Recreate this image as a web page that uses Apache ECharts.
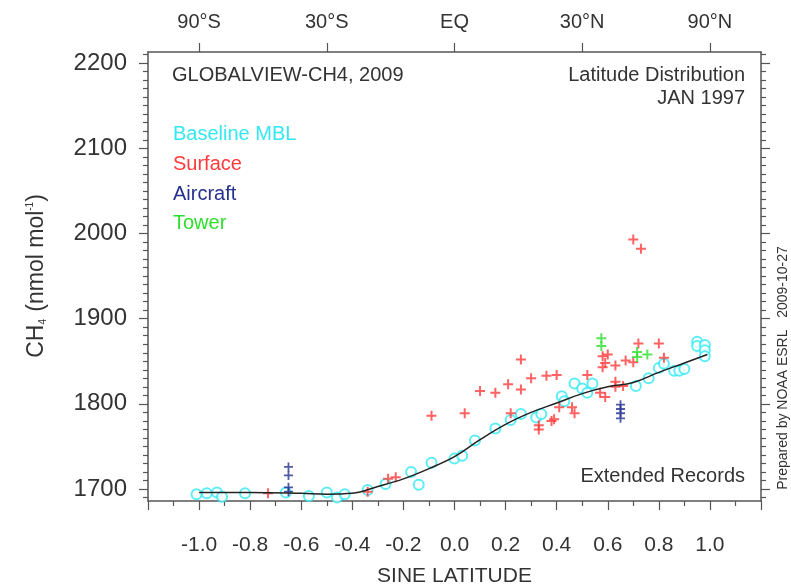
<!DOCTYPE html>
<html>
<head>
<meta charset="utf-8">
<script src="https://cdn.jsdelivr.net/npm/echarts@6/dist/echarts.min.js"></script>
<style>
  html, body { margin: 0; padding: 0; background: #fff; }
  #chart { width: 791px; height: 584px; }
</style>
</head>
<body>
<div id="chart"></div>
<script>
// tick labels
const yLabels = [1700, 1800, 1900, 2000, 2100, 2200]
const topLabels = [[-1, '90°S'], [-0.5, '30°S'], [0, 'EQ'], [0.5, '30°N'], [1, '90°N']]

// [sine latitude, CH4]
const baselineMBL = [
  [-1.01, 1694], [-0.97, 1695], [-0.93, 1696], [-0.91, 1691], [-0.82, 1695],
  [-0.66, 1696], [-0.57, 1692], [-0.50, 1696], [-0.46, 1690], [-0.43, 1694],
  [-0.34, 1699], [-0.27, 1706], [-0.17, 1720], [-0.14, 1705], [-0.09, 1731],
  [0.00, 1736], [0.03, 1739], [0.08, 1757], [0.16, 1771], [0.22, 1781],
  [0.26, 1788], [0.32, 1784], [0.34, 1788], [0.42, 1809], [0.43, 1803],
  [0.47, 1824], [0.50, 1818], [0.52, 1813], [0.54, 1824], [0.71, 1821],
  [0.76, 1830], [0.80, 1842], [0.82, 1847], [0.86, 1839], [0.88, 1839],
  [0.90, 1841], [0.95, 1873], [0.95, 1868], [0.98, 1869], [0.98, 1863],
  [0.98, 1856]
]
const surface = [
  [-0.73, 1695], [-0.34, 1697], [-0.26, 1712], [-0.23, 1714], [-0.09, 1786],
  [0.04, 1789], [0.10, 1815], [0.16, 1813], [0.21, 1823], [0.22, 1789],
  [0.26, 1852], [0.26, 1817], [0.30, 1830], [0.33, 1775], [0.33, 1770],
  [0.36, 1833], [0.38, 1780], [0.39, 1782], [0.40, 1834], [0.41, 1796],
  [0.46, 1796], [0.47, 1789], [0.52, 1834], [0.57, 1813], [0.58, 1856],
  [0.58, 1843], [0.59, 1808], [0.59, 1848], [0.60, 1858], [0.63, 1845],
  [0.63, 1826], [0.63, 1820], [0.66, 1821], [0.67, 1851], [0.70, 1849],
  [0.70, 1993], [0.73, 1982], [0.72, 1871], [0.80, 1871], [0.82, 1854]
]
const aircraft = [
  [-0.65, 1726], [-0.65, 1716], [-0.65, 1702], [-0.65, 1697],
  [0.65, 1799], [0.65, 1794], [0.65, 1789], [0.65, 1783]
]
const tower = [
  [0.575, 1877], [0.575, 1868], [0.715, 1861], [0.715, 1855], [0.755, 1858]
]
const fitCurve = [
  [-1.0, 1696], [-0.8, 1696], [-0.6, 1695], [-0.5, 1694], [-0.4, 1695],
  [-0.3, 1703], [-0.2, 1712], [-0.1, 1724], [0.0, 1738], [0.1, 1758],
  [0.2, 1776], [0.3, 1790], [0.4, 1801], [0.5, 1812], [0.6, 1820],
  [0.7, 1825], [0.8, 1837], [0.9, 1848], [0.99, 1858]
]

const FONT = 'Liberation Sans'
const AXIS = '#555'
const TXT = '#333'
const yMin = 1686, yMax = 2213

const minorY = []
for (let v = 1690; v <= 2210; v += 10) if (v % 100 !== 0) minorY.push(v)

const plus = 'path://M4,0H6V4H10V6H6V10H4V6H0V4H4Z'

function yAxisDef(pos, values, len, withLabels, showLine) {
  return {
    type: 'value', position: pos, min: yMin, max: yMax,
    axisLine: { show: showLine, onZero: false, lineStyle: { color: AXIS, width: 1.5 } },
    axisTick: { show: true, inside: false, length: len, customValues: values, lineStyle: { color: AXIS, width: 1.2 } },
    axisLabel: withLabels
      ? { show: true, customValues: yLabels, color: TXT, fontSize: 24, fontFamily: FONT, margin: 21, formatter: (v) => String(v) }
      : { show: false },
    splitLine: { show: false }
  }
}

function note(x, y, text, color, align) {
  return { type: 'text', x, y, style: { text, fontSize: 20, fontFamily: FONT, fill: color || TXT, align: align || 'left', verticalAlign: 'middle' } }
}

const chart = echarts.init(document.getElementById('chart'), null, { renderer: 'canvas' })
chart.setOption({
  backgroundColor: '#fff',
  animation: false,
  grid: { left: 148, right: 30, top: 52, bottom: 83, outerBoundsMode: 'none', containLabel: false },
  xAxis: [
    {
      type: 'value', position: 'bottom', min: -1.2, max: 1.2, interval: 0.2,
      name: 'SINE LATITUDE', nameLocation: 'middle', nameGap: 65,
      nameTextStyle: { color: TXT, fontSize: 21, fontFamily: FONT },
      axisLine: { show: true, onZero: false, lineStyle: { color: AXIS, width: 1.5 } },
      axisTick: { show: true, inside: false, length: 9, lineStyle: { color: AXIS, width: 1.2 } },
      minorTick: { show: true, splitNumber: 2, length: 5, lineStyle: { color: AXIS, width: 1.2 } },
      axisLabel: {
        color: TXT, fontSize: 21, fontFamily: FONT, margin: 34,
        showMinLabel: true, showMaxLabel: true,
        formatter: (v) => (Math.abs(v) > 1.01 ? '' : (Math.abs(v) < 1e-9 ? 0 : v).toFixed(1))
      },
      splitLine: { show: false }, minorSplitLine: { show: false }
    },
    {
      type: 'value', position: 'top', min: -1.2, max: 1.2,
      axisLine: { show: true, onZero: false, lineStyle: { color: AXIS, width: 1.5 } },
      axisTick: { show: true, inside: false, length: 9, customValues: topLabels.map(d => d[0]), lineStyle: { color: AXIS, width: 1.2 } },
      axisLabel: {
        show: true, customValues: topLabels.map(d => d[0]), color: TXT, fontSize: 20, fontFamily: FONT, margin: 20,
        formatter: (v) => { const t = topLabels.find(d => Math.abs(d[0] - v) < 1e-6); return t ? t[1] : '' }
      },
      splitLine: { show: false }
    }
  ],
  yAxis: [
    yAxisDef('left', yLabels, 9, true, true),
    yAxisDef('left', minorY, 5, false, false),
    yAxisDef('right', yLabels, 9, false, true),
    yAxisDef('right', minorY, 5, false, false)
  ],
  graphic: [
    {
      type: 'text', x: 37, y: 276, rotation: Math.PI / 2,
      style: {
        text: '{a|CH}{s|4}{a| (nmol mol}{p|-1}{a|)}',
        align: 'center', verticalAlign: 'middle', fill: TXT,
        rich: {
          a: { fontSize: 23, fontFamily: FONT, fill: TXT },
          s: { fontSize: 10, fontFamily: FONT, fill: TXT, verticalAlign: 'bottom', padding: [9, 1, 0, 0] },
          p: { fontSize: 10, fontFamily: FONT, fill: TXT, verticalAlign: 'top', padding: [0, 0, 11, 0] }
        }
      }
    },
    note(172, 75, 'GLOBALVIEW-CH4, 2009'),
    note(745, 75, 'Latitude Distribution', TXT, 'right'),
    note(745, 98, 'JAN 1997', TXT, 'right'),
    note(745, 476, 'Extended Records', TXT, 'right'),
    note(173, 134, 'Baseline MBL', '#33e8f2'),
    note(173, 164, 'Surface', '#ff3b3b'),
    note(173, 194, 'Aircraft', '#26318f'),
    note(173, 223, 'Tower', '#2ee02e'),
    {
      type: 'text', x: 783, y: 368, rotation: Math.PI / 2,
      style: { text: 'Prepared by NOAA ESRL   2009-10-27', fontSize: 14, fontFamily: FONT, fill: TXT, align: 'center', verticalAlign: 'middle' }
    }
  ],
  series: [
    {
      name: 'Baseline MBL', type: 'scatter', data: baselineMBL,
      symbol: 'emptyCircle', symbolSize: 10,
      itemStyle: { color: '#33e8f2', borderColor: '#33e8f2', borderWidth: 1.6 }
    },
    {
      name: 'Surface', type: 'scatter', data: surface, symbol: plus, symbolSize: 10,
      itemStyle: { color: '#ff3b3b' }
    },
    {
      name: 'Aircraft', type: 'scatter', data: aircraft, symbol: plus, symbolSize: 9,
      itemStyle: { color: '#26318f' }
    },
    {
      name: 'Tower', type: 'scatter', data: tower, symbol: plus, symbolSize: 10,
      itemStyle: { color: '#2ee02e' }
    },
    {
      name: 'Fit', type: 'line', data: fitCurve, smooth: 0.4, symbol: 'none',
      lineStyle: { color: '#222', width: 1.5 }, z: 5
    }
  ]
})
</script>
</body>
</html>
